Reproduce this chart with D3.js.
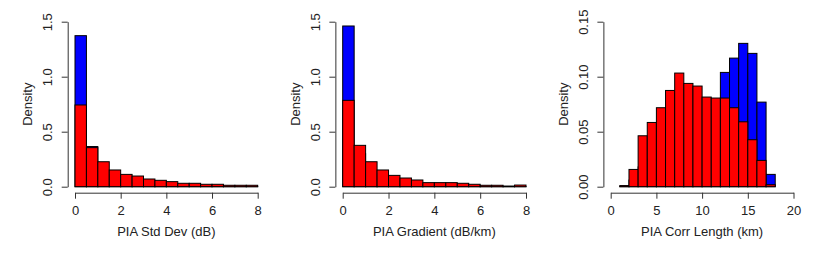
<!DOCTYPE html>
<html>
<head>
<meta charset="utf-8">
<script src="https://cdn.jsdelivr.net/npm/d3@7"></script>
<style>
  body { margin: 0; background: #fff; }
  svg { display: block; }
  .axis text { font-family: "Liberation Sans", Arial, sans-serif; font-size: 13px; fill: #222; }
  .axis path, .axis line { stroke: #333; }
  .lab { font-family: "Liberation Sans", Arial, sans-serif; font-size: 13px; fill: #222; }
</style>
</head>
<body>
<div id="chart"></div>
<script>
// bin edges
var sdBreaks = [0, 0.5, 1, 1.5, 2, 2.5, 3, 3.5, 4, 4.5, 5, 5.5, 6, 6.5, 7, 7.5, 8];
var gradBreaks = [0, 0.5, 1, 1.5, 2, 2.5, 3, 3.5, 4, 4.5, 5, 5.5, 6, 6.5, 7, 7.5, 8];
var corrBreaks = [1, 2, 3, 4, 5, 6, 7, 8, 9, 10, 11, 12, 13, 14, 15, 16, 17, 18];

// densities, blue drawn first, red on top
var sdBlue = [1.373, 0.365, 0.11, 0.06, 0.04, 0.03, 0.02, 0.015, 0.01, 0.008, 0.006, 0.005, 0.004, 0.003, 0.002, 0.002];
var sdRed  = [0.743, 0.355, 0.227, 0.152, 0.112, 0.097, 0.070, 0.058, 0.046, 0.031, 0.031, 0.022, 0.022, 0.013, 0.013, 0.013];

var gradBlue = [1.461, 0.30, 0.12, 0.05, 0.03, 0.02, 0.015, 0.01, 0.008, 0.006, 0.005, 0.004, 0.003, 0.002, 0.001, 0.001];
var gradRed  = [0.785, 0.376, 0.227, 0.152, 0.103, 0.079, 0.061, 0.037, 0.037, 0.037, 0.031, 0.022, 0.013, 0.013, 0.006, 0.015];

var corrBlue = [0.0005, 0.006, 0.018, 0.025, 0.032, 0.038, 0.045, 0.050, 0.055, 0.060, 0.070, 0.1039, 0.1169, 0.1303, 0.1212, 0.0769, 0.0112];
var corrRed  = [0.001, 0.0157, 0.0463, 0.0584, 0.0718, 0.0875, 0.1033, 0.0939, 0.0915, 0.0815, 0.0806, 0.0806, 0.0718, 0.059, 0.0427, 0.0239, 0.0018];

// tick labels
var sdTicks = [0, 2, 4, 6, 8];
var corrTicks = [0, 5, 10, 15, 20];
var densTicks = [0, 0.5, 1.0, 1.5];
var corrDensTicks = [0, 0.05, 0.10, 0.15];

var W = 818, H = 261;

var svg = d3.select("#chart")
  .append("svg")
    .attr("width", W)
    .attr("height", H);

var yTop = 21.7, yBot = 186.7, xAxisY = 192.7;

function drawPanel(p) {
  var g = svg.append("g");

  var x = d3.scaleLinear().domain(p.xdom).range([p.x0, p.x1]);
  var y = d3.scaleLinear().domain(p.ydom).range([yBot, yTop]);

  // y axis sits at the left end of the padded range (R style 4%)
  var pad = (p.xdom[1] - p.xdom[0]) * 0.04;
  var yAxisX = x(p.xdom[0] - pad);

  var bins = function(br, vals) {
    return vals.map(function(v, i) { return {a: br[i], b: br[i + 1], v: v}; });
  };

  [[p.blue, "#0000FF"], [p.red, "#FF0000"]].forEach(function(s) {
    g.append("g").selectAll("rect")
      .data(bins(p.breaks, s[0]))
      .enter().append("rect")
        .attr("x", d => x(d.a))
        .attr("width", d => x(d.b) - x(d.a))
        .attr("y", d => y(d.v))
        .attr("height", d => y(0) - y(d.v))
        .attr("fill", s[1])
        .attr("stroke", "#000")
        .attr("stroke-width", 1);
  });

  // x axis
  g.append("g")
    .attr("class", "axis")
    .attr("transform", "translate(0," + xAxisY + ")")
    .call(d3.axisBottom(x).tickValues(p.xticks).tickSize(6).tickSizeOuter(0).tickPadding(7)
      .tickFormat(d3.format("d")));

  // y axis, labels parallel to axis
  var ya = g.append("g")
    .attr("class", "axis")
    .attr("transform", "translate(" + yAxisX + ",0)")
    .call(d3.axisLeft(y).tickValues(p.yticks).tickSize(6).tickSizeOuter(0)
      .tickFormat(d3.format(p.yfmt)));
  ya.selectAll(".tick text")
    .attr("x", null).attr("dy", null)
    .attr("text-anchor", "middle")
    .attr("transform", "translate(-15.5,0) rotate(-90)");

  // titles
  g.append("text")
    .attr("class", "lab")
    .attr("x", x((p.xdom[0] + p.xdom[1]) / 2))
    .attr("y", 236)
    .attr("text-anchor", "middle")
    .text(p.title);

  g.append("text")
    .attr("class", "lab")
    .attr("text-anchor", "middle")
    .attr("transform", "translate(" + (yAxisX - 35.5) + "," + y((p.ydom[0] + p.ydom[1]) / 2) + ") rotate(-90)")
    .text("Density");
}

drawPanel({xdom: [0, 8], x0: 75, x1: 257.7, ydom: [0, 1.5], breaks: sdBreaks,
  blue: sdBlue, red: sdRed, xticks: sdTicks, yticks: densTicks, yfmt: ".1f",
  title: "PIA Std Dev (dB)"});

drawPanel({xdom: [0, 8], x0: 342.7, x1: 526, ydom: [0, 1.5], breaks: gradBreaks,
  blue: gradBlue, red: gradRed, xticks: sdTicks, yticks: densTicks, yfmt: ".1f",
  title: "PIA Gradient (dB/km)"});

drawPanel({xdom: [0, 20], x0: 610.7, x1: 793.5, ydom: [0, 0.15], breaks: corrBreaks,
  blue: corrBlue, red: corrRed, xticks: corrTicks, yticks: corrDensTicks, yfmt: ".2f",
  title: "PIA Corr Length (km)"});
</script>
</body>
</html>
